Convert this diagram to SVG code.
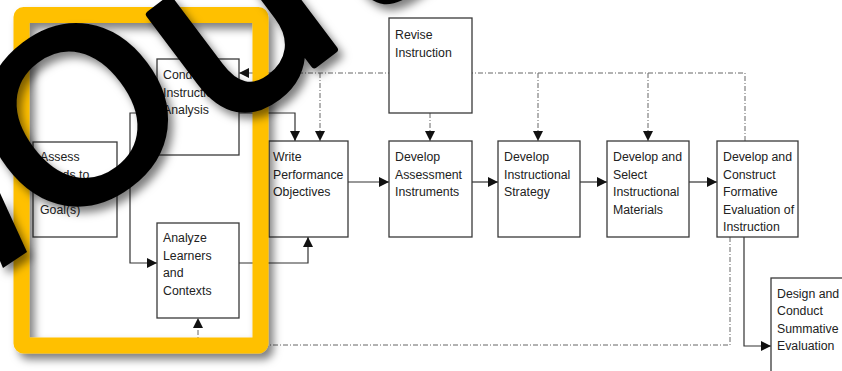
<svg xmlns="http://www.w3.org/2000/svg" width="842" height="371" viewBox="0 0 842 371">
<defs>
<style>
.box{fill:#fff;stroke:#3a3a3a;stroke-width:1.3}
.lbl{font-family:"Liberation Sans",Arial,sans-serif;font-size:12.3px;fill:#222}
.ln{fill:none;stroke:#333;stroke-width:1.2}
.dl{fill:none;stroke:#666;stroke-width:1;stroke-dasharray:5 2 1 2}
.big{font-family:"DejaVu Sans",sans-serif;font-size:230px;fill:#000;stroke:#000;stroke-width:7;stroke-linejoin:round}
</style>
<marker id="ah" viewBox="0 0 10 10" refX="10" refY="5" markerWidth="11" markerHeight="10" markerUnits="userSpaceOnUse" orient="auto">
<path d="M0,0 L10,5 L0,10 z" fill="#111"/>
</marker>
<filter id="sh" x="-20%" y="-20%" width="150%" height="150%">
<feDropShadow dx="5" dy="6" stdDeviation="4" flood-color="#000" flood-opacity="0.5"/>
</filter>
</defs>
<rect width="842" height="371" fill="#fff"/>
<g id="connectors">
<path class="dl" d="M745,141 V73 H239" marker-end="url(#ah)"/>
<path class="dl" d="M320,73 V141" marker-end="url(#ah)"/>
<path class="dl" d="M538,73 V141" marker-end="url(#ah)"/>
<path class="dl" d="M648,73 V141" marker-end="url(#ah)"/>
<path class="dl" d="M430,113 V141" marker-end="url(#ah)"/>
<path class="dl" d="M730,237 V345 H198 V318" marker-end="url(#ah)"/>
<path class="ln" d="M117,188 H130"/>
<path class="ln" d="M130,188 V113 H157" marker-end="url(#ah)"/>
<path class="ln" d="M130,188 V263 H157" marker-end="url(#ah)"/>
<path class="ln" d="M239,113 H295 V141" marker-end="url(#ah)"/>
<path class="ln" d="M239,263 H308 V237" marker-end="url(#ah)"/>
<path class="ln" d="M348,182 H389" marker-end="url(#ah)"/>
<path class="ln" d="M472,182 H498" marker-end="url(#ah)"/>
<path class="ln" d="M580,182 H607" marker-end="url(#ah)"/>
<path class="ln" d="M689,182 H717" marker-end="url(#ah)"/>
<path class="ln" d="M744,237 V346 H771" marker-end="url(#ah)"/>
</g>
<g id="assess">
<rect class="box" x="33" y="142" width="84" height="95"/>
<text class="lbl"><tspan x="40" y="161">Assess</tspan><tspan x="40" y="178.5">Needs to</tspan><tspan x="40" y="196">Identify</tspan><tspan x="40" y="213.5">Goal(s)</tspan></text>
</g>
<g id="conduct">
<rect class="box" x="157" y="59" width="82" height="96"/>
<text class="lbl"><tspan x="163" y="79">Conduct</tspan><tspan x="163" y="96.5">Instructional</tspan><tspan x="163" y="114">Analysis</tspan></text>
</g>
<g id="analyze">
<rect class="box" x="157" y="223" width="82" height="95"/>
<text class="lbl"><tspan x="163" y="242">Analyze</tspan><tspan x="163" y="259.5">Learners</tspan><tspan x="163" y="277">and</tspan><tspan x="163" y="294.5">Contexts</tspan></text>
</g>
<g id="write">
<rect class="box" x="269" y="141" width="79" height="96"/>
<text class="lbl"><tspan x="273" y="161">Write</tspan><tspan x="273" y="178.5">Performance</tspan><tspan x="273" y="196">Objectives</tspan></text>
</g>
<g id="revise">
<rect class="box" x="389" y="18" width="83" height="95"/>
<text class="lbl"><tspan x="395" y="39">Revise</tspan><tspan x="395" y="56.5">Instruction</tspan></text>
</g>
<g id="assessment">
<rect class="box" x="389" y="141" width="83" height="96"/>
<text class="lbl"><tspan x="395" y="161">Develop</tspan><tspan x="395" y="178.5">Assessment</tspan><tspan x="395" y="196">Instruments</tspan></text>
</g>
<g id="strategy">
<rect class="box" x="498" y="141" width="82" height="96"/>
<text class="lbl"><tspan x="504" y="161">Develop</tspan><tspan x="504" y="178.5">Instructional</tspan><tspan x="504" y="196">Strategy</tspan></text>
</g>
<g id="materials">
<rect class="box" x="607" y="141" width="82" height="96"/>
<text class="lbl"><tspan x="613" y="161">Develop and</tspan><tspan x="613" y="178.5">Select</tspan><tspan x="613" y="196">Instructional</tspan><tspan x="613" y="213.5">Materials</tspan></text>
</g>
<g id="formative">
<rect class="box" x="717" y="141" width="81" height="96"/>
<text class="lbl"><tspan x="723" y="161">Develop and</tspan><tspan x="723" y="178.5">Construct</tspan><tspan x="723" y="196">Formative</tspan><tspan x="723" y="213.5">Evaluation of</tspan><tspan x="723" y="231">Instruction</tspan></text>
</g>
<g id="summative">
<rect class="box" x="771" y="278" width="90" height="110"/>
<text class="lbl"><tspan x="777" y="298">Design and</tspan><tspan x="777" y="315">Conduct</tspan><tspan x="777" y="332.5">Summative</tspan><tspan x="777" y="350">Evaluation</tspan></text>
</g>
<g id="highlight">
<rect x="21.5" y="15" width="239" height="330.5" rx="2" fill="none" stroke="#FFC000" stroke-width="16" filter="url(#sh)"/>
</g>
<g id="overlay" filter="url(#sh)">
<polygon points="0,193 27,252 3,268 0,261" fill="#000"/>
<text class="big" transform="translate(49.3,240.6) rotate(-37) scale(1.08,1)">O<tspan dx="-2.4" dy="19" font-size="255">u</tspan><tspan dx="11">t</tspan></text>
</g>
</svg>
